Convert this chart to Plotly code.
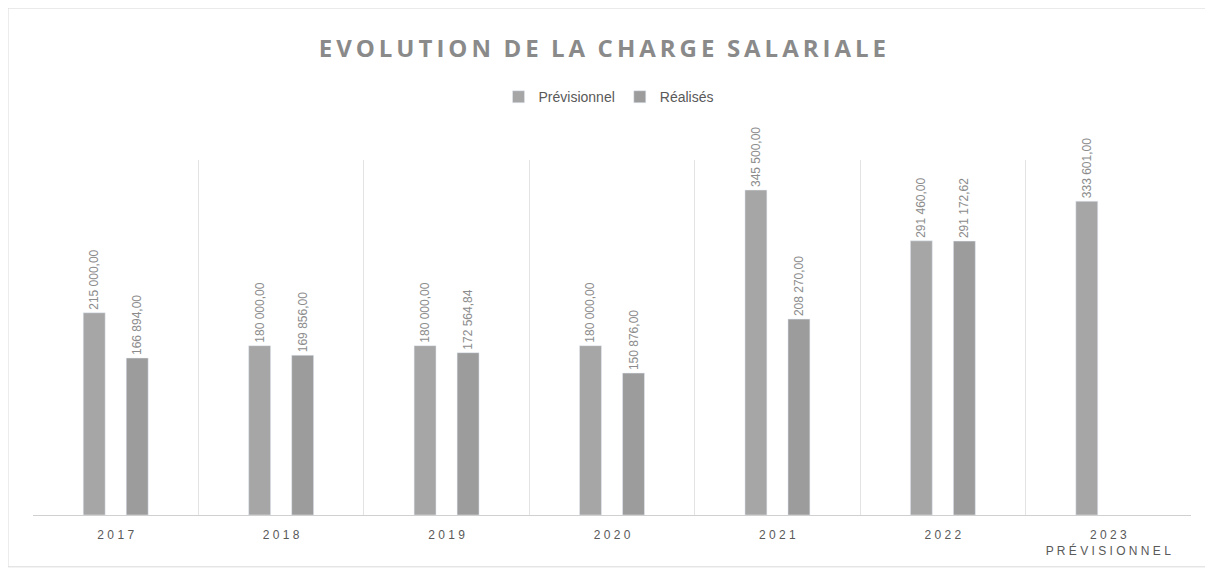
import plotly.graph_objects as go

categories = ["2017", "2018", "2019", "2020", "2021", "2022", "2023 PRÉVISIONNEL"]
tick_labels = ["2 0 1 7", "2 0 1 8", "2 0 1 9", "2 0 2 0", "2 0 2 1", "2 0 2 2",
               "2 0 2 3<br>P R É V I S I O N N E L"]
previsionnel = [215000.00, 180000.00, 180000.00, 180000.00, 345500.00, 291460.00, 333601.00]
realises = [166894.00, 169856.00, 172564.84, 150876.00, 208270.00, 291172.62, None]


def fr(v):
    if v is None:
        return ""
    s = f"{v:,.2f}"
    return s.replace(",", " ").replace(".", ",")


label_font = dict(family="Liberation Sans, Arial", size=12, color="#8c8c8c")

fig = go.Figure()
fig.add_trace(go.Bar(
    x=categories, y=previsionnel, name="Prévisionnel",
    marker=dict(color="#a6a6a6"),
    text=[fr(v) for v in previsionnel], textposition="outside", textangle=-90,
    textfont=label_font, cliponaxis=False,
))
fig.add_trace(go.Bar(
    x=categories, y=realises, name="Réalisés",
    marker=dict(color="#9c9c9c"),
    text=[fr(v) for v in realises], textposition="outside", textangle=-90,
    textfont=label_font, cliponaxis=False,
))

title_text = "\u2009".join("EVOLUTION DE LA CHARGE SALARIALE").replace("\u2009 \u2009", "  ")

fig.update_layout(
    width=1213, height=573,
    paper_bgcolor="white", plot_bgcolor="white",
    margin=dict(l=25, r=30, t=152, b=66, autoexpand=False),
    barmode="group", bargap=0.48, bargroupgap=0.49,
    title=dict(
        text="<b>" + title_text + "</b>",
        x=0.49, xanchor="center", y=0.93, yanchor="middle",
        font=dict(family="Open Sans, Liberation Sans", size=24, color="#8a8a8a"),
    ),
    legend=dict(
        orientation="h", x=0.497, xanchor="center", y=1.177, yanchor="middle",
        font=dict(family="Liberation Sans, Arial", size=14, color="#595959"),
        itemwidth=30,
    ),
    showlegend=True,
    uniformtext=dict(minsize=8, mode="show"),
)
fig.update_xaxes(
    tickmode="array", tickvals=categories, ticktext=tick_labels,
    tickson="boundaries", showgrid=True, gridcolor="#e3e3e3", gridwidth=1,
    ticks="", showline=True, linecolor="#d0d0d0", linewidth=1, automargin=False,
    ticklabelstandoff=9,
    tickfont=dict(family="Liberation Sans, Arial", size=12, color="#595959"),
)
fig.update_yaxes(range=[0, 377400], showgrid=False, showticklabels=False,
                 zeroline=False, showline=False, automargin=False)

fig.add_shape(type="rect", xref="paper", yref="paper",
              x0=-0.0216, x1=1.0155, y0=-0.146, y1=1.428,
              line=dict(color="#d9d9d9", width=1), fillcolor="rgba(0,0,0,0)", layer="below")

fig.write_html("out.html")
